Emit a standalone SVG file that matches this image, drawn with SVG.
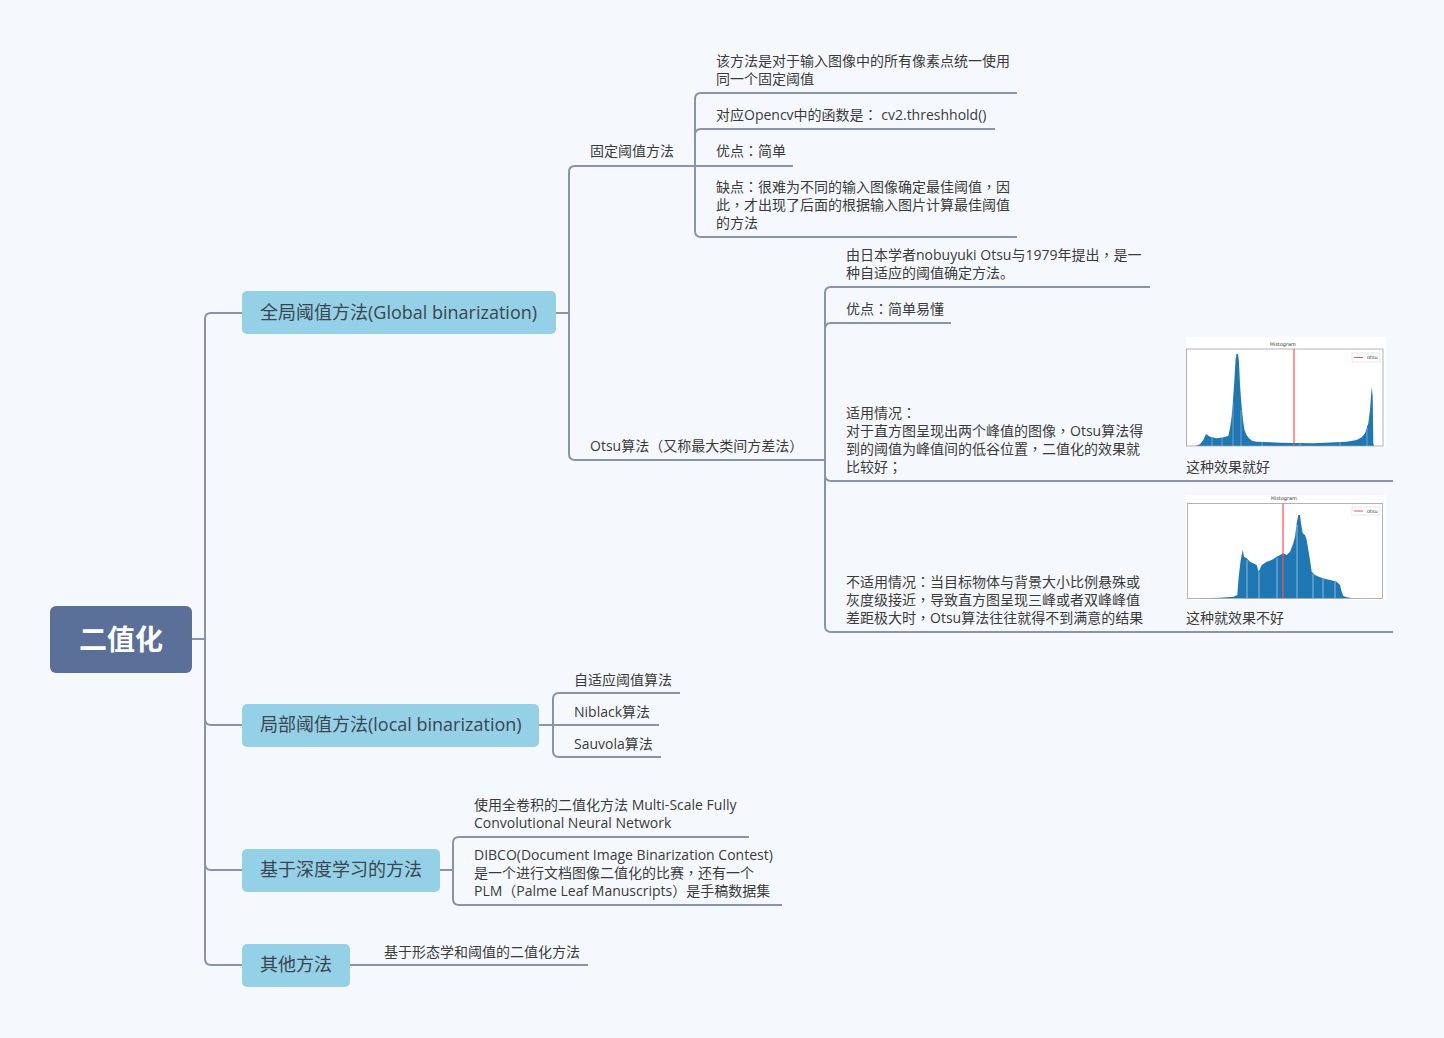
<svg xmlns="http://www.w3.org/2000/svg" width="1444" height="1038" viewBox="0 0 1444 1038">
<style>
.conn{fill:none;stroke:#8b93a6;stroke-width:2;stroke-linecap:butt}
.t{font-family:"Open Sans","Noto Sans CJK SC",sans-serif;font-size:14px;fill:#3a3a3a}
.p{font-family:"Noto Sans CJK TC",sans-serif}
.mt{font-family:"Open Sans","Noto Sans CJK SC",sans-serif;font-size:18px;fill:#3a4550}
.main{fill:#95d1e6}
.root{fill:#5b7099}
.rt{font-family:"Noto Sans CJK SC","Open Sans",sans-serif;font-size:28px;font-weight:bold;fill:#ffffff}
.axis{fill:none;stroke:#a0a0a0;stroke-width:0.8}
.bar{fill:#1f77b4}
.ht{font-family:"DejaVu Sans",sans-serif;font-size:5px;fill:#333333}
</style>
<rect x="0" y="0" width="1444" height="1038" fill="#f5f9fd"/>

<g id="connectors">
  <path class="conn" d="M192,639 H205 V319 Q205,313 211,313 H242"/>
  <path class="conn" d="M192,639 H205 V719 Q205,725 211,725 H242"/>
  <path class="conn" d="M192,639 H205 V864 Q205,870 211,870 H242"/>
  <path class="conn" d="M192,639 H205 V959 Q205,965 211,965 H242"/>

  <path class="conn" d="M556,313 H569 V172 Q569,166 575,166 H695"/>
  <path class="conn" d="M556,313 H569 V454 Q569,460 575,460 H825"/>

  <path class="conn" d="M695,166 V99 Q695,93 701,93 H1017"/>
  <path class="conn" d="M695,166 V135 Q695,129 701,129 H995"/>
  <path class="conn" d="M695,166 H793"/>
  <path class="conn" d="M695,166 V231 Q695,237 701,237 H1017"/>

  <path class="conn" d="M825,460 V293 Q825,287 831,287 H1150"/>
  <path class="conn" d="M825,460 V329 Q825,323 831,323 H951"/>
  <path class="conn" d="M825,460 V475 Q825,481 831,481 H1150"/>
  <path class="conn" d="M825,460 V626 Q825,632 831,632 H1150"/>
  <path class="conn" d="M1150,481 H1393"/>
  <path class="conn" d="M1150,632 H1393"/>

  <path class="conn" d="M539,725 H553 V699 Q553,693 559,693 H680"/>
  <path class="conn" d="M539,725 H659"/>
  <path class="conn" d="M539,725 H553 V751 Q553,757 559,757 H661"/>

  <path class="conn" d="M440,870 H453 V843 Q453,837 459,837 H749"/>
  <path class="conn" d="M440,870 H453 V899 Q453,905 459,905 H782"/>

  <path class="conn" d="M350,965 H588"/>
</g>

<g id="root">
  <rect class="root" x="50" y="606" width="142" height="67" rx="6"/>
  <text class="rt" x="121" y="650" text-anchor="middle">二值化</text>
</g>

<g id="global">
  <rect class="main" x="242" y="291" width="314" height="43" rx="5"/>
  <text class="mt" x="260" y="319">全局阈值方法(Global binarization)</text>
</g>
<g id="local">
  <rect class="main" x="242" y="704" width="297" height="43" rx="5"/>
  <text class="mt" x="260" y="731">局部阈值方法(local binarization)</text>
</g>
<g id="deep">
  <rect class="main" x="242" y="849" width="198" height="43" rx="5"/>
  <text class="mt" x="260" y="876">基于深度学习的方法</text>
</g>
<g id="other">
  <rect class="main" x="242" y="944" width="108" height="43" rx="5"/>
  <text class="mt" x="260" y="971">其他方法</text>
</g>

<g id="fixed">
  <text class="t" x="590" y="156">固定阈值方法</text>
</g>
<g id="fixed-desc">
  <text class="t" x="716" y="66">该方法是对于输入图像中的所有像素点统一使用</text>
  <text class="t" x="716" y="84">同一个固定阈值</text>
</g>
<g id="fixed-opencv">
  <text class="t" x="716" y="120">对应Opencv中的函数是<tspan class="p">：</tspan> cv2.threshhold()</text>
</g>
<g id="fixed-pro">
  <text class="t" x="716" y="156">优点<tspan class="p">：</tspan>简单</text>
</g>
<g id="fixed-con">
  <text class="t" x="716" y="192">缺点<tspan class="p">：</tspan>很难为不同的输入图像确定最佳阈值<tspan class="p">，</tspan>因</text>
  <text class="t" x="716" y="210">此<tspan class="p">，</tspan>才出现了后面的根据输入图片计算最佳阈值</text>
  <text class="t" x="716" y="228">的方法</text>
</g>

<g id="otsu">
  <text class="t" x="590" y="451">Otsu算法<tspan class="p">（</tspan>又称最大类间方差法<tspan class="p">）</tspan></text>
</g>
<g id="otsu-desc">
  <text class="t" x="846" y="260">由日本学者nobuyuki Otsu与1979年提出<tspan class="p">，</tspan>是一</text>
  <text class="t" x="846" y="278">种自适应的阈值确定方法。</text>
</g>
<g id="otsu-pro">
  <text class="t" x="846" y="314">优点<tspan class="p">：</tspan>简单易懂</text>
</g>
<g id="otsu-good">
  <text class="t" x="846" y="418">适用情况<tspan class="p">：</tspan></text>
  <text class="t" x="846" y="436">对于直方图呈现出两个峰值的图像<tspan class="p">，</tspan>Otsu算法得</text>
  <text class="t" x="846" y="454">到的阈值为峰值间的低谷位置<tspan class="p">，</tspan>二值化的效果就</text>
  <text class="t" x="846" y="472">比较好<tspan class="p">；</tspan></text>
</g>
<g id="otsu-good-img">
  <rect x="1186" y="337" width="200" height="110" fill="#ffffff"/>
  <text class="ht" x="1283" y="346" text-anchor="middle">Histogram</text>
  <polygon class="bar" points="1195,446 1200,444.3 1203.3,440 1206,434 1210,436.7 1216.7,438.3 1223.3,437.3 1228.3,436 1230,428 1231.5,418 1233,400 1234.5,378 1235.5,360 1236.5,354 1238,354 1239,362 1240,385 1241.5,405 1243,420 1244.5,430 1246.5,435 1249,438.3 1252,440.7 1256.7,441.7 1280,442.7 1313.3,443.3 1346.7,441.7 1356.7,440 1361.7,437.3 1365,433.3 1368.3,423.3 1370,410 1371.7,386.7 1372.7,396.7 1373.3,443.3 1374,446"/>
  <g stroke="#ffffff" stroke-width="0.5" opacity="0.7">
    <line x1="1212" y1="436" x2="1212" y2="446"/>
    <line x1="1222" y1="436" x2="1222" y2="446"/>
    <line x1="1233" y1="402" x2="1233" y2="446"/>
    <line x1="1241" y1="410" x2="1241" y2="446"/>
    <line x1="1262" y1="440" x2="1262" y2="446"/>
    <line x1="1300" y1="440" x2="1300" y2="446"/>
    <line x1="1340" y1="440" x2="1340" y2="446"/>
    <line x1="1367" y1="428" x2="1367" y2="446"/>
  </g>
  <rect class="axis" x="1186.5" y="349" width="196.5" height="97"/>
  <line x1="1294" y1="349" x2="1294" y2="446" stroke="#ff5050" stroke-width="1.2"/>
  <rect x="1352" y="353" width="28" height="9" fill="#ffffff" stroke="#d0d0d0" stroke-width="0.5"/>
  <line x1="1354" y1="357.5" x2="1363" y2="357.5" stroke="#ff5050" stroke-width="1"/>
  <text class="ht" x="1367" y="359" font-size="3.5">otsu</text>
  <text class="t" x="1186" y="472">这种效果就好</text>
</g>
<g id="otsu-bad">
  <text class="t" x="846" y="587">不适用情况<tspan class="p">：</tspan>当目标物体与背景大小比例悬殊或</text>
  <text class="t" x="846" y="605">灰度级接近<tspan class="p">，</tspan>导致直方图呈现三峰或者双峰峰值</text>
  <text class="t" x="846" y="623">差距极大时<tspan class="p">，</tspan>Otsu算法往往就得不到满意的结果</text>
</g>
<g id="otsu-bad-img">
  <rect x="1186" y="495" width="200" height="105" fill="#ffffff"/>
  <text class="ht" x="1284" y="500" text-anchor="middle">Histogram</text>
  <polygon class="bar" points="1200,598.3 1220,597.7 1233.3,596.7 1237.3,595 1238.7,576.7 1240.7,560 1242.7,550 1244,556.7 1246.7,558.3 1250,561.7 1256.7,565 1258.7,571.7 1261.7,565 1266.7,561.7 1271.7,560 1276.7,556.7 1280,555 1283.3,553.3 1286.7,555 1290,551.7 1293.3,543.3 1295,536.7 1296.7,523.3 1298.3,515 1300,515 1301,523.3 1302.7,533.3 1305,535 1306.7,540 1310,560 1311.7,571.7 1315,575 1320,577.3 1326.7,579.3 1333.3,580.7 1336.7,581.7 1340,585 1341.7,591.7 1343.3,596 1346.7,597.3 1353.3,598.3"/>
  <g stroke="#ffffff" stroke-width="0.6" opacity="0.85">
    <line x1="1247" y1="560" x2="1247" y2="598"/>
    <line x1="1259" y1="572" x2="1259" y2="598"/>
    <line x1="1277" y1="558" x2="1277" y2="598"/>
    <line x1="1297" y1="525" x2="1297" y2="598"/>
    <line x1="1313" y1="574" x2="1313" y2="598"/>
    <line x1="1323" y1="578" x2="1323" y2="598"/>
    <line x1="1335" y1="582" x2="1335" y2="598"/>
  </g>
  <rect class="axis" x="1187.5" y="503.5" width="195" height="95"/>
  <line x1="1283" y1="503.5" x2="1283" y2="598.5" stroke="#ff5050" stroke-width="1.2"/>
  <rect x="1352" y="507" width="28" height="8" fill="#ffffff" stroke="#d0d0d0" stroke-width="0.5"/>
  <line x1="1354" y1="511" x2="1363" y2="511" stroke="#ff5050" stroke-width="1"/>
  <text class="ht" x="1367" y="512.5" font-size="3.5">otsu</text>
  <text class="t" x="1186" y="623">这种就效果不好</text>
</g>

<g id="adaptive">
  <text class="t" x="574" y="685">自适应阈值算法</text>
</g>
<g id="niblack">
  <text class="t" x="574" y="717">Niblack算法</text>
</g>
<g id="sauvola">
  <text class="t" x="574" y="749">Sauvola算法</text>
</g>

<g id="fcn">
  <text class="t" x="474" y="810">使用全卷积的二值化方法 Multi-Scale Fully</text>
  <text class="t" x="474" y="828">Convolutional Neural Network</text>
</g>
<g id="dibco">
  <text class="t" x="474" y="860">DIBCO(Document Image Binarization Contest)</text>
  <text class="t" x="474" y="878">是一个进行文档图像二值化的比赛<tspan class="p">，</tspan>还有一个</text>
  <text class="t" x="474" y="896">PLM<tspan class="p">（</tspan>Palme Leaf Manuscripts<tspan class="p">）</tspan>是手稿数据集</text>
</g>

<g id="morph">
  <text class="t" x="384" y="957">基于形态学和阈值的二值化方法</text>
</g>
</svg>
